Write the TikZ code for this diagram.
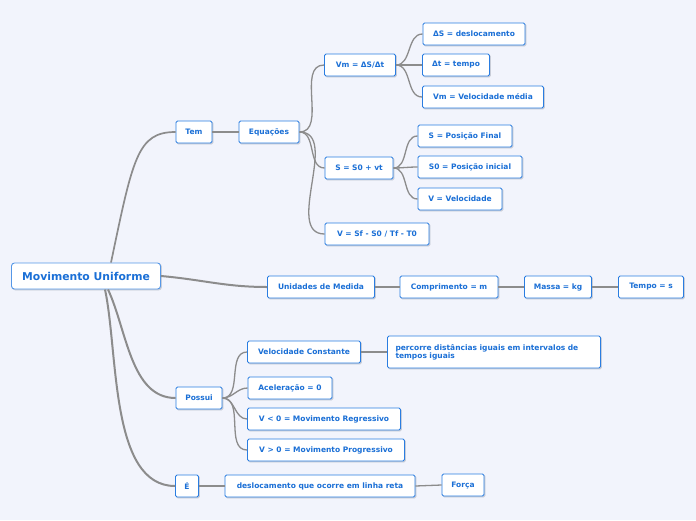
\documentclass[tikz,border=0pt]{standalone}
\usepackage{fontspec}
\setmainfont{DejaVu Sans}
\definecolor{bgc}{HTML}{F2F4FC}
\definecolor{bordc}{HTML}{2A7DE1}
\definecolor{txtc}{HTML}{1A6FD6}
\definecolor{linec}{HTML}{8C8C8C}
\definecolor{shadc}{HTML}{C9CDD8}
\tikzset{
  box/.style={draw=bordc, line width=0.9pt, fill=white, rounded corners=1.5pt, text=txtc,
    font=\fontsize{7.5}{9}\selectfont\bfseries, minimum height=22pt, inner sep=2pt,
    preaction={fill=shadc, draw=shadc, transform canvas={xshift=1pt, yshift=-1pt}}},
  rootbox/.style={box, draw=bordc!80, rounded corners=3pt, minimum height=26pt,
    font=\fontsize{10.8}{12}\selectfont\bfseries},
  conn/.style={draw=linec, line width=1.3pt},
  rconn/.style={draw=linec, line width=2pt},
}
\begin{document}
\begin{tikzpicture}[x=1pt,y=-1pt]
\fill[bgc] (0,0) rectangle (696,520);
\useasboundingbox (0,0) rectangle (696,520);

\node[rootbox, minimum width=149pt] (root) at (86,276) {Movimento Uniforme};

\node[box, minimum width=36pt] (tem) at (194,132) {Tem};
\node[box, minimum width=60pt] (equ) at (269,132) {Equações};
\node[box, minimum width=71pt] (vm) at (360,65) {Vm = ΔS/Δt};
\node[box, minimum width=102pt] (ds) at (474,34) {ΔS = deslocamento};
\node[box, minimum width=67pt] (dt) at (456,65) {Δt = tempo};
\node[box, minimum width=121pt] (vmv) at (483,97) {Vm = Velocidade média};
\node[box, minimum width=68pt] (s) at (359,168) {S = S0 + vt};
\node[box, minimum width=94pt] (spf) at (465,136) {S = Posição Final};
\node[box, minimum width=104pt] (spi) at (470,167) {S0 = Posição inicial};
\node[box, minimum width=84pt] (vv) at (460,199) {V = Velocidade};
\node[box, minimum width=104pt] (vsf) at (377,234) {V = Sf - S0 / Tf - T0};

\node[box, minimum width=107pt] (uni) at (321,287) {Unidades de Medida};
\node[box, minimum width=98pt] (comp) at (449,287) {Comprimento = m};
\node[box, minimum width=67pt] (mas) at (558,287) {Massa = kg};
\node[box, minimum width=65pt] (tmp) at (651,287) {Tempo = s};

\node[box, minimum width=46pt] (pos) at (199,398) {Possui};
\node[box, minimum width=113pt] (vc) at (304,352) {Velocidade Constante};
\node[box, minimum width=213pt, minimum height=32pt, text width=197pt, inner xsep=8pt, align=left,
  font=\fontsize{7.5}{8}\selectfont\bfseries] (perc) at (494,352) {percorre distâncias iguais em intervalos de\\tempos iguais};
\node[box, minimum width=84pt] (ace) at (290,388) {Aceleração = 0};
\node[box, minimum width=153pt] (vreg) at (324,419) {V < 0 = Movimento Regressivo};
\node[box, minimum width=157pt] (vpro) at (326,450) {V > 0 = Movimento Progressivo};

\node[box, minimum width=23pt] (e) at (187,486) {É};
\node[box, minimum width=190pt] (desl) at (320,486) {deslocamento que ocorre em linha reta};
\node[box, minimum width=42pt] (forca) at (463,485) {Força};

% root connectors
\draw[rconn, line width=1.7pt] ([xshift=25pt]root.north) .. controls +(22,-105) and +(-38,0) .. (tem.west);
\draw[rconn] (root.east) to[out=-5,in=180] (uni.west);
\draw[rconn] ([xshift=22pt]root.south) to[out=-65,in=180, looseness=0.9] (pos.west);
\draw[rconn] ([xshift=19pt]root.south) to[out=-78,in=180, looseness=0.8] (e.west);

\draw[conn] (tem.east) -- (equ.west);
\foreach \c in {vm,s,vsf} \draw[conn] (equ.east) to[out=0,in=180] (\c.west);
\foreach \c in {ds,dt,vmv} \draw[conn] (vm.east) to[out=0,in=180] (\c.west);
\foreach \c in {spf,spi,vv} \draw[conn] (s.east) to[out=0,in=180] (\c.west);
\draw[conn] (uni.east) -- (comp.west);
\draw[conn] (comp.east) -- (mas.west);
\draw[conn] (mas.east) -- (tmp.west);
\foreach \c in {vc,ace,vreg,vpro} \draw[conn] (pos.east) to[out=0,in=180] (\c.west);
\draw[conn] (vc.east) -- (perc.west);
\draw[conn] (e.east) -- (desl.west);
\draw[conn] (desl.east) -- (forca.west);
\end{tikzpicture}
\end{document}
